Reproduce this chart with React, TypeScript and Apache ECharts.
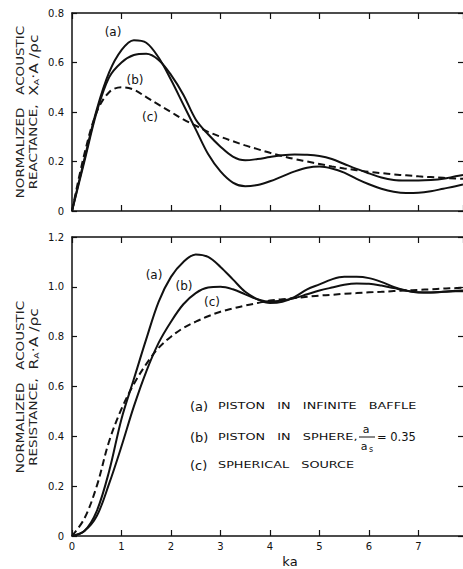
import React, { useEffect, useRef } from 'react';
import * as echarts from 'echarts';

// ka sample points
const ka = [0, 0.25, 0.5, 0.75, 1, 1.25, 1.5, 1.75, 2, 2.25, 2.5, 2.75, 3, 3.25, 3.5, 3.75, 4, 4.25, 4.5, 4.75, 5, 5.25, 5.5, 5.75, 6, 6.25, 6.5, 6.75, 7, 7.25, 7.5, 7.75, 7.9];

// Normalized acoustic reactance X_A·A/ρc
const reactA = [0, 0.21, 0.41, 0.56, 0.65, 0.69, 0.68, 0.62, 0.53, 0.43, 0.33, 0.23, 0.16, 0.115, 0.1, 0.105, 0.12, 0.14, 0.16, 0.175, 0.18, 0.172, 0.155, 0.13, 0.108, 0.09, 0.078, 0.073, 0.074, 0.08, 0.09, 0.1, 0.107];
const reactB = [0, 0.2, 0.4, 0.54, 0.6, 0.63, 0.635, 0.61, 0.55, 0.47, 0.37, 0.31, 0.26, 0.22, 0.205, 0.21, 0.218, 0.225, 0.228, 0.227, 0.222, 0.21, 0.19, 0.17, 0.152, 0.135, 0.125, 0.123, 0.123, 0.125, 0.13, 0.14, 0.145];
const reactC = [0, 0.23, 0.4, 0.48, 0.5, 0.49, 0.46, 0.43, 0.4, 0.37, 0.345, 0.32, 0.3, 0.282, 0.265, 0.25, 0.235, 0.222, 0.21, 0.2, 0.19, 0.18, 0.172, 0.165, 0.158, 0.153, 0.148, 0.144, 0.14, 0.137, 0.134, 0.131, 0.13];

// Normalized acoustic resistance R_A·A/ρc
const resA = [0, 0.02, 0.1, 0.26, 0.47, 0.63, 0.79, 0.94, 1.04, 1.1, 1.13, 1.12, 1.08, 1.03, 0.98, 0.95, 0.935, 0.94, 0.96, 0.99, 1.01, 1.03, 1.04, 1.04, 1.035, 1.02, 1.0, 0.985, 0.977, 0.977, 0.98, 0.982, 0.982];
const resB = [0, 0.02, 0.08, 0.21, 0.36, 0.52, 0.66, 0.775, 0.86, 0.93, 0.975, 0.997, 1.0, 0.99, 0.97, 0.95, 0.94, 0.945, 0.955, 0.97, 0.985, 0.997, 1.008, 1.013, 1.012, 1.005, 0.995, 0.985, 0.978, 0.977, 0.98, 0.984, 0.985];
const resC = [0, 0.07, 0.2, 0.38, 0.51, 0.61, 0.69, 0.755, 0.8, 0.835, 0.86, 0.882, 0.9, 0.913, 0.925, 0.935, 0.945, 0.95, 0.955, 0.96, 0.965, 0.968, 0.972, 0.975, 0.978, 0.98, 0.983, 0.985, 0.988, 0.99, 0.993, 0.995, 0.997];

const xMin = 0;
const xMax = 7.9;
const topYMax = 0.8;
const botYMax = 1.2;

const legendLines = ['PISTON   IN   INFINITE   BAFFLE', 'PISTON   IN   SPHERE,', 'SPHERICAL   SOURCE'];

const FONT = 'DejaVu Sans';
const INK = '#111';

export default function App() {
  const ref = useRef<HTMLDivElement>(null);
  useEffect(() => {
    const chart = echarts.init(ref.current!, null, { renderer: 'svg' });
    const pairs = (ys: number[]) => ka.map((x, i) => [x, ys[i]]);
    const yFmt = (v: number) => (v === 0 ? '0' : v.toFixed(1));
    const xFmt = (v: number) => (Number.isInteger(v) ? String(v) : '');

    const line = (ys: number[], gi: number, dashed: boolean) => ({
      type: 'line',
      xAxisIndex: gi * 2,
      yAxisIndex: gi * 2,
      data: pairs(ys),
      smooth: 0.35,
      symbol: 'none',
      lineStyle: { color: INK, width: 2, type: dashed ? [7, 4] : 'solid' },
    });

    const xAx = (gi: number, top: boolean, labels: boolean) => ({
      type: 'value',
      gridIndex: gi,
      position: top ? 'top' : 'bottom',
      min: xMin,
      max: xMax,
      interval: 1,
      axisLine: { show: true, onZero: false, lineStyle: { color: INK, width: 1.5 } },
      axisTick: { show: true, inside: true, length: 6, lineStyle: { color: INK, width: 1.2 } },
      axisLabel: labels
        ? { show: true, margin: 5, formatter: xFmt, showMaxLabel: false, fontFamily: FONT, fontSize: 10, color: INK }
        : { show: false },
      splitLine: { show: false },
    });

    const yAx = (gi: number, right: boolean, max: number) => ({
      type: 'value',
      gridIndex: gi,
      position: right ? 'right' : 'left',
      min: 0,
      max,
      interval: 0.2,
      axisLine: { show: !right, onZero: false, lineStyle: { color: INK, width: 1.5 } },
      axisTick: right
        ? { show: true, inside: true, length: 5, lineStyle: { color: INK, width: 1.2 } }
        : { show: true, inside: true, length: 5, lineStyle: { color: INK, width: 1.2 } },
      axisLabel: right
        ? { show: false }
        : { show: true, margin: 8, formatter: yFmt, fontFamily: FONT, fontSize: 10, color: INK },
      splitLine: { show: false },
    });

    const txt = (x: number, y: number, text: string, size: number, align = 'left', scaleX = 1) => ({
      type: 'text',
      x,
      y,
      scaleX,
      style: { text, font: `${size}px "${FONT}"`, fill: INK, textAlign: align, textVerticalAlign: 'middle', align, verticalAlign: 'middle' },
    });

    const rich = {
      t: { fontFamily: FONT, fontSize: 10, fill: '#222', color: '#222', lineHeight: 13 },
      b: { fontFamily: FONT, fontSize: 11.5, fill: '#222', color: '#222', lineHeight: 13 },
      s: { fontFamily: FONT, fontSize: 7, fill: '#222', color: '#222', lineHeight: 13, verticalAlign: 'bottom' },
    };
    const yTitle = (cy: number, text: string) => ({
      type: 'text',
      x: 27,
      y: cy,
      rotation: Math.PI / 2,
      scaleX: 1.35,
      style: { text, rich, fill: '#222', align: 'center', verticalAlign: 'middle', textAlign: 'center', textVerticalAlign: 'middle' },
    });

    chart.setOption({
      animation: false,
      backgroundColor: '#fff',
      grid: [
        { left: 72, top: 13, right: 0, height: 198 },
        { left: 72, top: 237, right: 0, height: 299 },
      ],
      xAxis: [xAx(0, false, false), xAx(0, true, false), xAx(1, false, true), xAx(1, true, false)],
      yAxis: [yAx(0, false, topYMax), yAx(0, true, topYMax), yAx(1, false, botYMax), yAx(1, true, botYMax)],
      series: [
        line(reactA, 0, false),
        line(reactB, 0, false),
        line(reactC, 0, true),
        line(resA, 1, false),
        line(resB, 1, false),
        line(resC, 1, true),
      ],
      graphic: [
        yTitle(112, '{t|NORMALIZED   ACOUSTIC}\n{t|REACTANCE,  }{b|X}{s|A}{b|·A /ρc}'),
        yTitle(387, '{t|NORMALIZED   ACOUSTIC}\n{t|RESISTANCE,  }{b|R}{s|A}{b|·A /ρc}'),
        // curve labels, top
        txt(113, 32, '(a)', 12, 'center'),
        txt(135, 80, '(b)', 12, 'center'),
        txt(150, 117, '(c)', 12, 'center'),
        // curve labels, bottom
        txt(154, 275, '(a)', 12, 'center'),
        txt(184, 286, '(b)', 12, 'center'),
        txt(212, 302, '(c)', 12, 'center'),
        // legend
        txt(190, 406, '(a)', 13),
        txt(218, 406, legendLines[0], 9.5, 'left', 1.35),
        txt(190, 437, '(b)', 13),
        txt(218, 437, legendLines[1], 9.5, 'left', 1.35),
        txt(366, 429, 'a', 11, 'center'),
        { type: 'line', shape: { x1: 359, y1: 437, x2: 375, y2: 437 }, style: { stroke: INK, lineWidth: 1 } },
        txt(364, 446, 'a', 11, 'center'),
        txt(371, 449, 's', 8, 'center'),
        txt(377, 437, '= 0.35', 11.5),
        txt(190, 465, '(c)', 13),
        txt(218, 465, legendLines[2], 9.5, 'left', 1.35),
        // x axis name
        txt(290, 561, 'ka', 13, 'center'),
      ],
    });
    return () => chart.dispose();
  }, []);
  return <div ref={ref} style={{ position: 'absolute', left: 0, top: 0, width: 463, height: 569 }} />;
}
